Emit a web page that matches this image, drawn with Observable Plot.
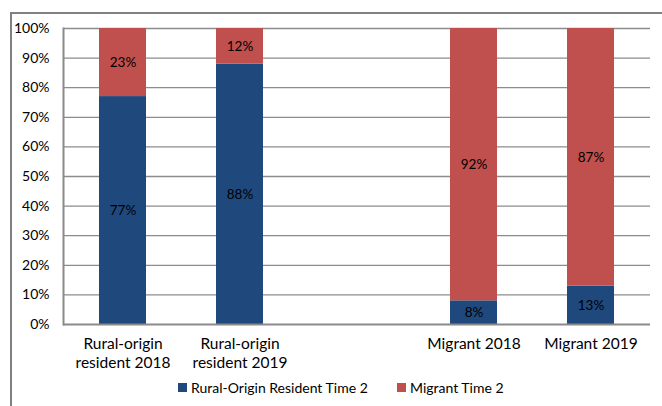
<!DOCTYPE html>
<html>
<head>
<meta charset="utf-8">
<script src="https://cdn.jsdelivr.net/npm/d3@7"></script>
<script src="https://cdn.jsdelivr.net/npm/@observablehq/plot@0.6"></script>
<style>
  html, body { margin: 0; padding: 0; width: 662px; height: 406px; overflow: hidden; background: #fff; font-family: Lato, "Open Sans", sans-serif; }
  #frame { position: absolute; left: 10px; top: 12px; width: 800px; height: 600px; border-left: 2px solid #808080; border-top: 2px solid #808080; }
  #chart { position: absolute; left: 0; top: 0; }
  #legend { position: absolute; left: 0; top: 379px; width: 662px; height: 20px; font-size: 14px; color: #000; white-space: nowrap; }
  #legend .item { position: absolute; top: 0; display: flex; align-items: center; }
  #legend .sw { width: 9px; height: 9px; margin-right: 4px; display: inline-block; }
</style>
</head>
<body>
<div id="frame"></div>
<div id="chart"></div>
<div id="legend"></div>
<script>
const categories = ["Rural-origin\nresident 2018", "Rural-origin\nresident 2019", "", "Migrant 2018", "Migrant 2019"];
const seriesNames = ["Rural-Origin Resident Time 2", "Migrant Time 2"];
const ruralValues = [77, 88, null, 8, 13];
const migrantValues = [23, 12, null, 92, 87];
const yTicks = [0, 10, 20, 30, 40, 50, 60, 70, 80, 90, 100];
const colors = ["#1F497D", "#C0504D"];

const rows = [];
categories.forEach((c, i) => {
  if (ruralValues[i] != null) rows.push({cat: c, series: seriesNames[0], value: ruralValues[i]});
  if (migrantValues[i] != null) rows.push({cat: c, series: seriesNames[1], value: migrantValues[i]});
});

const chart = Plot.plot({
  width: 662,
  height: 372,
  marginLeft: 63,
  marginRight: 12,
  marginTop: 28,
  marginBottom: 48,
  style: {background: "transparent", fontFamily: "Lato, 'Open Sans', sans-serif", color: "#000"},
  x: {domain: categories, paddingInner: 0.6, paddingOuter: 0.3, label: null},
  y: {domain: [0, 100], label: null},
  color: {domain: seriesNames, range: colors},
  marks: [
    Plot.gridY(yTicks.filter(d => d > 0), {stroke: "#8c8c8c", strokeOpacity: 1, strokeWidth: 1.3}),
    Plot.barY(rows, {x: "cat", y: "value", fill: "series", order: seriesNames}),
    Plot.text(rows, Plot.stackY({x: "cat", y: "value", z: "series", order: seriesNames, text: d => d.value + "%", fill: "#000", fontSize: 13.5})),
    Plot.ruleY([0], {stroke: "#8a8a8a", strokeWidth: 2}),
    Plot.frame({anchor: "left", stroke: "#8a8a8a", strokeWidth: 2}),
    Plot.axisY({ticks: yTicks, tickSize: 0, tickPadding: 14, tickFormat: d => d + "%", fontSize: 14, label: null}),
    Plot.axisX({tickSize: 0, tickPadding: 11, fontSize: 15.5, lineHeight: 1.23, label: null})
  ]
});
document.getElementById("chart").appendChild(chart);

const legend = document.getElementById("legend");
const legendLeft = [178, 397];
seriesNames.forEach((s, i) => {
  const item = document.createElement("span");
  item.className = "item";
  item.style.left = legendLeft[i] + "px";
  const sw = document.createElement("span");
  sw.className = "sw";
  sw.style.background = colors[i];
  item.appendChild(sw);
  item.appendChild(document.createTextNode(s));
  legend.appendChild(item);
});
</script>
</body>
</html>
